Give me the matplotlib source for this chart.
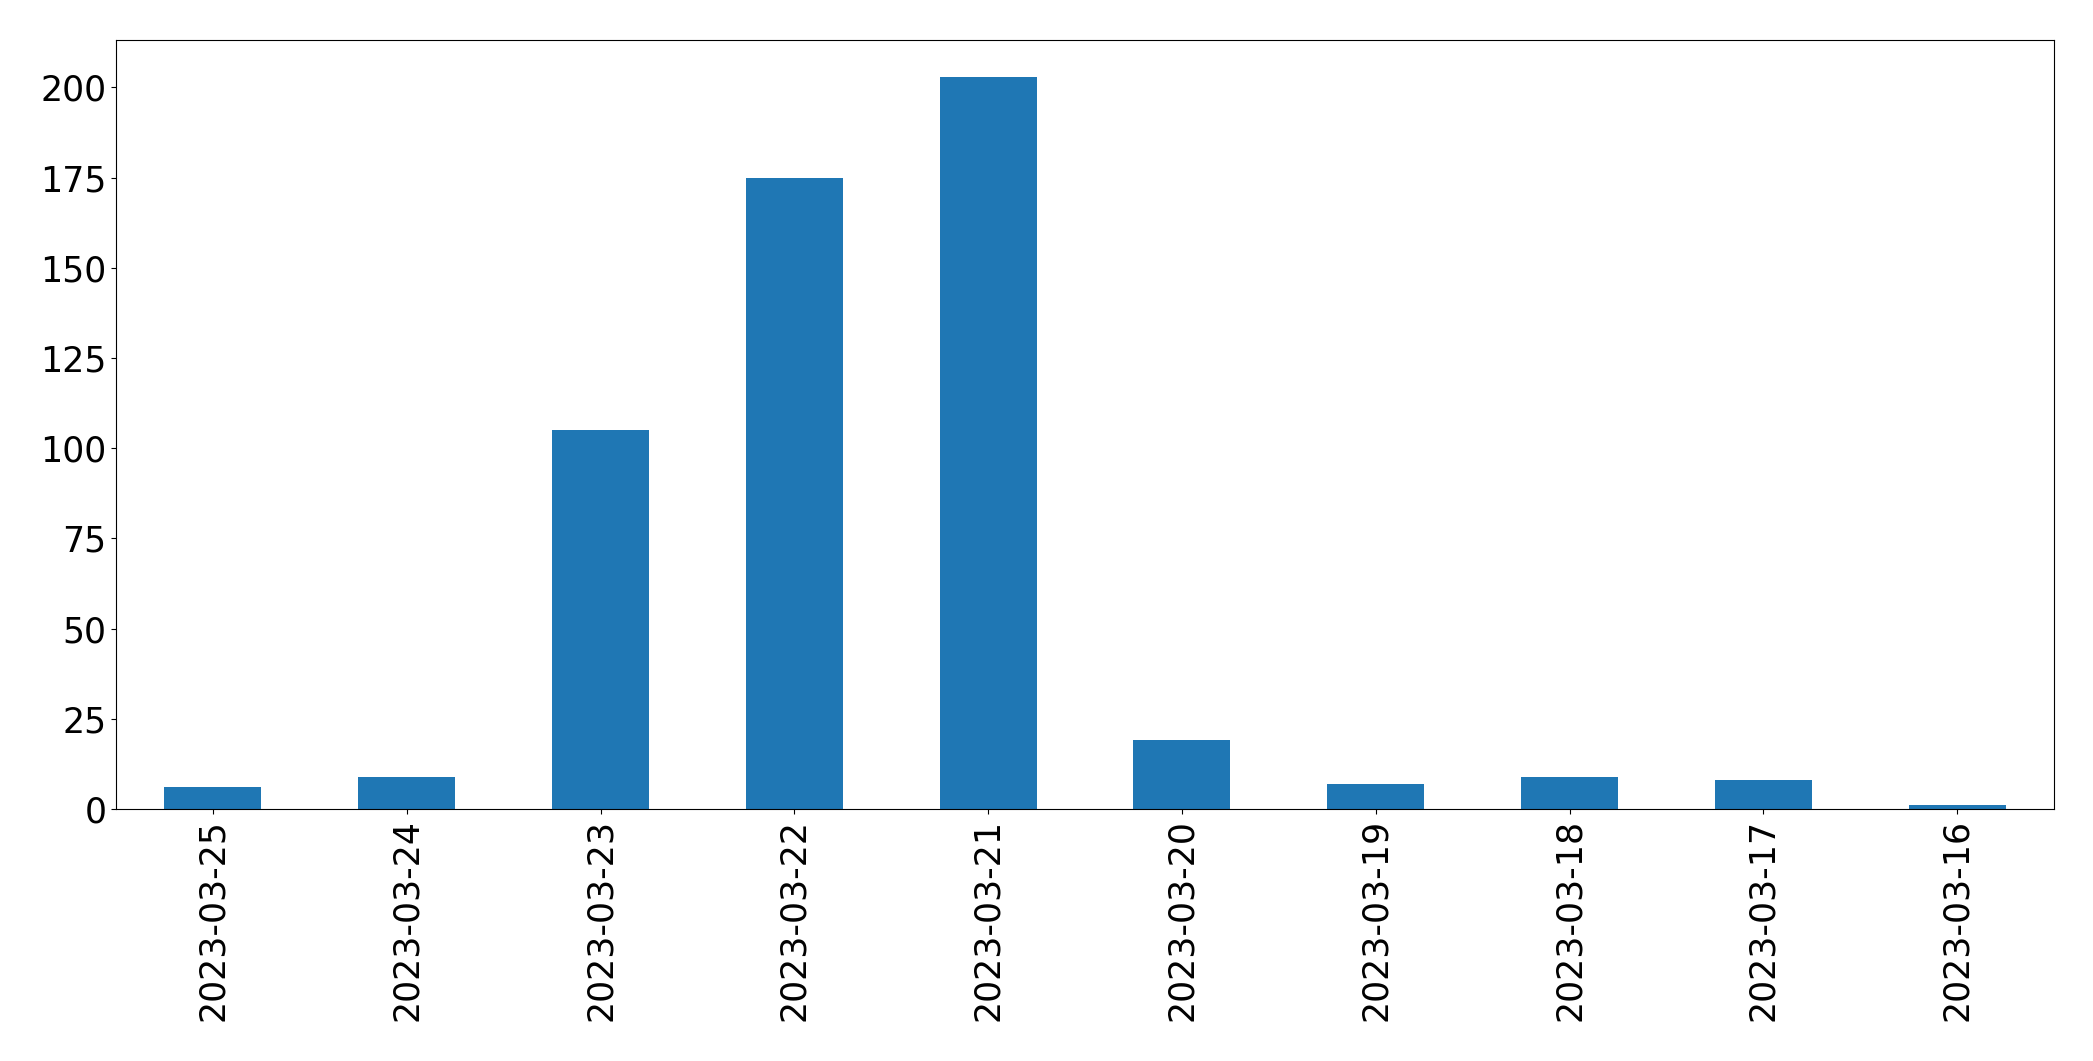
import matplotlib
matplotlib.use("Agg")
import matplotlib.pyplot as plt

dates = ['2023-03-25', '2023-03-24', '2023-03-23', '2023-03-22', '2023-03-21',
         '2023-03-20', '2023-03-19', '2023-03-18', '2023-03-17', '2023-03-16']
counts = [6, 9, 105, 175, 203, 19, 7, 9, 8, 1]

fig = plt.figure(figsize=(20.93, 10.61), dpi=100)
ax = fig.add_axes([116/2093, 1 - 809/1061, (2054-116)/2093, (809-40)/1061])
pos = range(len(dates))
ax.bar(pos, counts, width=0.5, color='#1f77b4')
ax.set_xticks(list(pos))
ax.set_xticklabels(dates, rotation=90, fontsize=25)
ax.set_xlim(-0.5, len(dates) - 0.5)
ax.set_yticks([0, 25, 50, 75, 100, 125, 150, 175, 200])
ax.tick_params(axis='y', labelsize=25)
fig.savefig('out.png', dpi=100)
